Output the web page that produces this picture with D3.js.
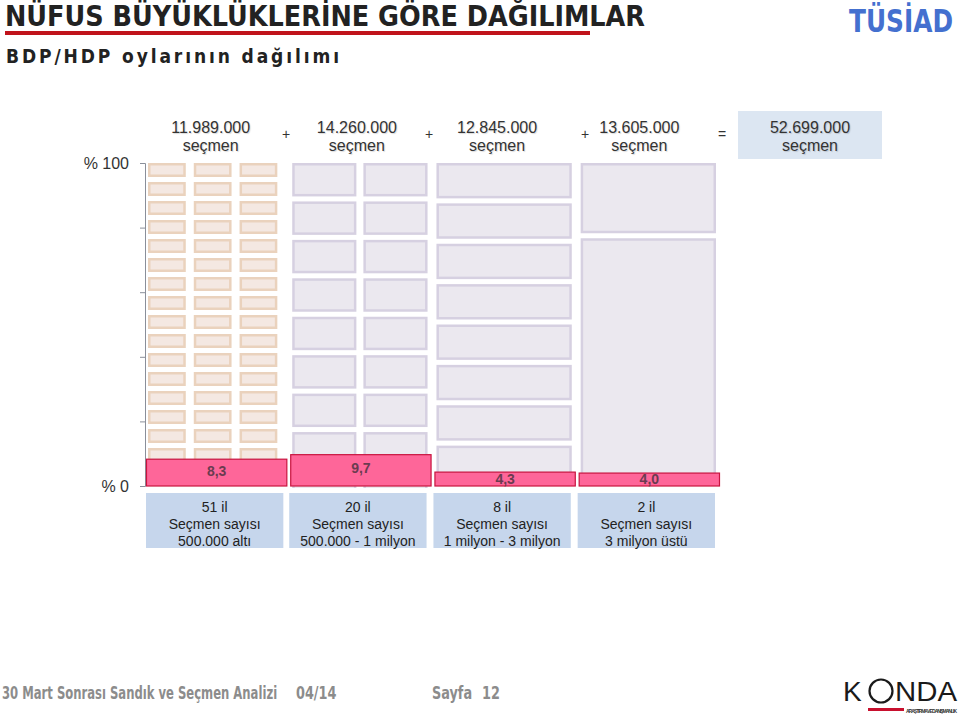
<!DOCTYPE html>
<html><head><meta charset="utf-8">
<script src="https://cdn.jsdelivr.net/npm/d3@7/dist/d3.min.js"></script>
<style>
body{margin:0;background:#fff;}
svg{display:block;}
text{font-family:"Liberation Sans",Arial,sans-serif;}
</style></head>
<body>
<svg id="c" width="960" height="716"></svg>
<script>
// ---- data ----
const groups = ["g1","g2","g3","g4"];
const voters = ["11.989.000","14.260.000","12.845.000","13.605.000"];
const totalVoters = "52.699.000";
const provinceCounts = [51, 20, 8, 2];
const provinceCols = [3, 2, 1, 1];
const provinceLabels = ["51 il","20 il","8 il","2 il"];
const rangeLabels = ["500.000 altı","500.000 - 1 milyon","1 milyon - 3 milyon","3 milyon üstü"];
const values = [8.3, 9.7, 4.3, 4.0];
const valueLabels = ["8,3","9,7","4,3","4,0"];
const yTicks = [0,20,40,60,80,100];

// ---- layout ----
const svg = d3.select("#c");
const y = d3.scaleLinear().domain([0,100]).range([486,163]);
const x = d3.scaleBand().domain(groups).range([146,720]).paddingInner(0.02);
// row height of the small cells, in % of the axis (as drawn in the picture)
const rowPct = [100/17, 11.9, 12.5, null];
const g4Rows = [23.3, 76.7];
const topLabelShift = [-6, -4, -8, -10];
const cond = "'DejaVu Sans Condensed','Liberation Sans Narrow',sans-serif";

// title
svg.append("text").attr("x",5).attr("y",26)
  .style("font-family",cond)
  .attr("font-weight","bold").attr("font-size",28).attr("fill","#222")
  .attr("textLength",640).attr("lengthAdjust","spacingAndGlyphs")
  .text("NÜFUS BÜYÜKLÜKLERİNE GÖRE DAĞILIMLAR");
svg.append("rect").attr("x",5).attr("y",31).attr("width",585).attr("height",4).attr("fill","#c0131b");
svg.append("text").attr("x",6).attr("y",63)
  .style("font-family",cond)
  .attr("font-weight","bold").attr("font-size",19).attr("fill","#222")
  .attr("textLength",333).attr("lengthAdjust","spacing")
  .text("BDP/HDP oylarının dağılımı");

// TÜSİAD logo
svg.append("g").attr("transform","translate(849,32) scale(1,1.25)")
  .append("text").attr("x",0).attr("y",0)
  .style("font-family",cond).attr("font-weight","bold")
  .attr("font-size",25).attr("fill","#4470cf")
  .attr("textLength",104).attr("lengthAdjust","spacingAndGlyphs").text("TÜSİAD");

// axis
const axis = svg.append("g").attr("transform","translate(145,0)")
  .call(d3.axisLeft(y).tickValues(yTicks).tickSize(5).tickFormat(""));
axis.select(".domain").attr("stroke","#8a8f9a");
axis.selectAll(".tick line").attr("stroke","#8a8f9a");
svg.append("text").attr("x",129).attr("y",y(100)+6).attr("text-anchor","end")
  .attr("font-size",16).attr("fill","#333").text("% 100");
svg.append("text").attr("x",129).attr("y",y(0)+6).attr("text-anchor","end")
  .attr("font-size",16).attr("fill","#333").text("% 0");

// clip cells to the axis area
svg.append("clipPath").attr("id","clip").append("rect")
  .attr("x",140).attr("y",y(100)-2).attr("width",600).attr("height",y(0)-y(100)+4);

const cellsG = svg.append("g").attr("clip-path","url(#clip)");
groups.forEach((g,i)=>{
  const cols = provinceCols[i];
  const rows = provinceCounts[i]/cols;
  const first = i===0;
  const x0 = x(g)+2, w = x.bandwidth()-(first?12:6), gap = first?8:7;
  const cw = (w - gap*(cols-1))/cols;
  const cells = [];
  let top = 100;
  for(let r=0;r<rows;r++){
    const h = rowPct[i]!==null ? rowPct[i] : g4Rows[r];
    for(let c=0;c<cols;c++) cells.push({c, top, bot: top-h});
    top -= h;
  }
  const vgap = 5;
  cellsG.selectAll(null).data(cells).join("rect")
    .attr("x",d=>x0 + d.c*(cw+gap)+1.25)
    .attr("y",d=>y(d.top)+1.25)
    .attr("width",cw-2.5)
    .attr("height",d=>Math.max(0,y(d.bot)-y(d.top)-vgap-2.5))
    .attr("fill",first?"#f4e8e2":"#ebe8ef")
    .attr("stroke",first?"#ead2bd":"#d6d0e1")
    .attr("stroke-width",2.5);
});

// red bars
svg.selectAll(".bar").data(groups).join("rect").attr("class","bar")
  .attr("x",d=>x(d)+0.5).attr("width",x.bandwidth()-1)
  .attr("y",(d,i)=>y(values[i])).attr("height",(d,i)=>y(0)-y(values[i]))
  .attr("fill","#fe6699").attr("stroke","#c8143f").attr("stroke-width",1.2);
svg.selectAll(".vl").data(groups).join("text").attr("class","vl")
  .attr("x",d=>x(d)+x.bandwidth()/2)
  .attr("y",(d,i)=> values[i]>6 ? (y(values[i])+y(0))/2+3 : y(0)-2)
  .attr("text-anchor","middle").attr("font-weight","bold").attr("font-size",14)
  .attr("fill","#6b3c50")
  .text((d,i)=>valueLabels[i]);

// bottom label boxes
groups.forEach((g,i)=>{
  const bx = x(g)+ (i===0?0:-1);
  svg.append("rect").attr("x",bx).attr("y",493).attr("width",x.bandwidth()-4).attr("height",55)
    .attr("fill","#c6d6ec");
  const cx = bx + (x.bandwidth()-4)/2;
  const t = svg.append("text").attr("text-anchor","middle").attr("font-size",14).attr("fill","#222");
  t.append("tspan").attr("x",cx).attr("y",512).text(provinceLabels[i]);
  t.append("tspan").attr("x",cx).attr("y",529).text("Seçmen sayısı");
  t.append("tspan").attr("x",cx).attr("y",546).text(rangeLabels[i]);
});

// top voter labels
groups.forEach((g,i)=>{
  const cx = x(g)+x.bandwidth()/2 + topLabelShift[i];
  const t = svg.append("text").attr("text-anchor","middle").attr("font-size",16).attr("fill","#333")
    .style("text-shadow","1px 1px 1px rgba(0,0,0,0.15)");
  t.append("tspan").attr("x",cx).attr("y",133).text(voters[i]);
  t.append("tspan").attr("x",cx).attr("y",151).text("seçmen");
});
const ops = ["+","+","+","="];
const opX = [286, 429, 585, 722];
ops.forEach((o,i)=>{
  svg.append("text").attr("x",opX[i]).attr("y",139).attr("text-anchor","middle")
    .attr("font-size",14).attr("fill","#333").text(o);
});
svg.append("rect").attr("x",738).attr("y",111).attr("width",144).attr("height",48).attr("fill","#dce6f2");
const tt = svg.append("text").attr("text-anchor","middle").attr("font-size",16).attr("fill","#333")
  .style("text-shadow","1px 1px 1px rgba(0,0,0,0.15)");
tt.append("tspan").attr("x",810).attr("y",133).text(totalVoters);
tt.append("tspan").attr("x",810).attr("y",151).text("seçmen");

// footer (horizontally condensed via transform)
const foot = (txt, xx, sx)=>{
  svg.append("g").attr("transform",`translate(${xx},699) scale(${sx},1)`)
    .append("text").attr("x",0).attr("y",0)
    .style("font-family",cond)
    .attr("font-weight","bold").attr("font-size",17).attr("fill","#8c8c8c").text(txt);
};
foot("30 Mart Sonrası Sandık ve Seçmen Analizi",2,0.76);
foot("04/14",296,0.84);
foot("Sayfa",432,0.84);
foot("12",482,0.84);

// KONDA logo
const kg = svg.append("g");
kg.append("text").attr("x",843).attr("y",701).attr("font-size",28).attr("fill","#1a1a1a").text("K");
kg.append("circle").attr("cx",881).attr("cy",691).attr("r",11.5).attr("fill","none")
  .attr("stroke","#1a1a1a").attr("stroke-width",2.2);
kg.append("text").attr("x",895).attr("y",701).attr("font-size",28).attr("fill","#1a1a1a")
  .attr("textLength",62).attr("lengthAdjust","spacingAndGlyphs").text("NDA");
kg.append("rect").attr("x",868).attr("y",708).attr("width",36).attr("height",3).attr("fill","#c8102e");
kg.append("text").attr("x",906).attr("y",713).attr("font-size",5).attr("font-weight","bold")
  .attr("fill","#333").attr("textLength",51).text("ARAŞTIRMA VE DANIŞMANLIK");
</script>
</body></html>
